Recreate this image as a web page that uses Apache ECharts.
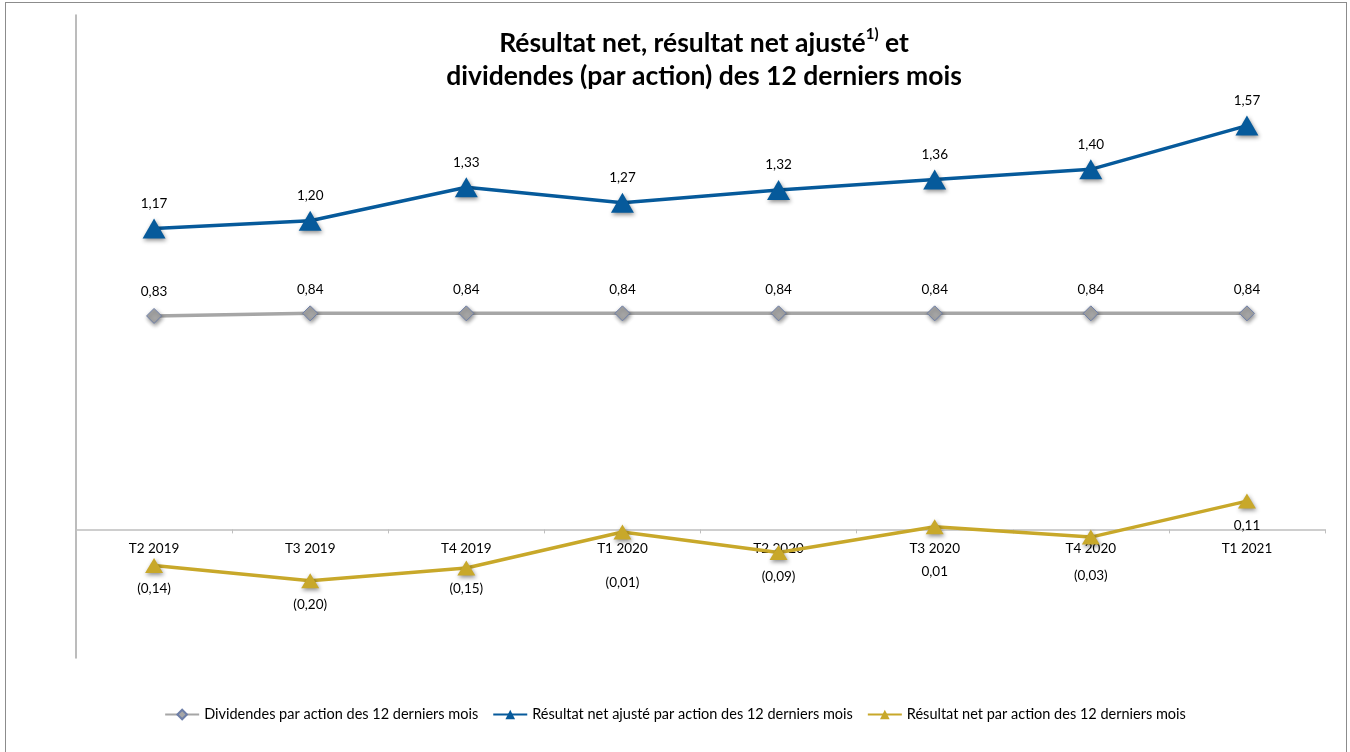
<!DOCTYPE html>
<html>
<head>
<meta charset="utf-8">
<script src="https://cdn.jsdelivr.net/npm/echarts@6/dist/echarts.min.js"></script>
<style>
    html, body { margin: 0; padding: 0; background: #fff; overflow: hidden; }
    #frame { position: absolute; left: 5px; top: 2px; width: 1342px; height: 800px; border: 1px solid #8c8c8c; box-sizing: border-box; }
    #chart { position: absolute; left: 0; top: 0; width: 1350px; height: 752px; }
</style>
</head>
<body>
<div id="frame"></div>
<div id="chart"></div>
<script>
const categories = ['T2 2019', 'T3 2019', 'T4 2019', 'T1 2020', 'T2 2020', 'T3 2020', 'T4 2020', 'T1 2021'];
const dividends = [0.83, 0.84, 0.84, 0.84, 0.84, 0.84, 0.84, 0.84];
const adjustedResult = [1.17, 1.20, 1.33, 1.27, 1.32, 1.36, 1.40, 1.57];
const netResult = [-0.14, -0.20, -0.15, -0.01, -0.09, 0.01, -0.03, 0.11];

// vertical offsets of the net result labels (manually placed in the original)
const netLabelDy = [23, 24, 21, 51, 24, 45, 39, 25];

const FONT = 'Lato';
const Y_MIN = -0.5, Y_MAX = 2.0;
const GRID_TOP = 15, GRID_BOTTOM = 94, CHART_H = 752;

function fmt(v) {
    const s = Math.abs(v).toFixed(2).replace('.', ',');
    return v < 0 ? '(' + s + ')' : s;
}

document.addEventListener('DOMContentLoaded', function() {
    const chart = echarts.init(document.getElementById('chart'));
    const shadow = { shadowBlur: 4, shadowColor: 'rgba(0,0,0,0.45)', shadowOffsetX: 1, shadowOffsetY: 2 };

    // distance from the bottom of the plot up to the zero line
    const plotH = CHART_H - GRID_TOP - GRID_BOTTOM;
    const zeroOffset = plotH * (0 - Y_MIN) / (Y_MAX - Y_MIN);

    const option = {
        animation: false,
        textStyle: { fontFamily: FONT },
        title: {
            left: 699,
            top: 22,
            textAlign: 'center',
            text: '{a|Résultat net, résultat net ajusté}{s|1)}{a| et}\n{a|dividendes (par action) des 12 derniers mois}',
            textStyle: {
                rich: {
                    a: { fontFamily: FONT, fontSize: 26.5, fontWeight: 'bold', color: '#000', lineHeight: 33 },
                    s: { fontFamily: FONT, fontSize: 15, fontWeight: 'bold', color: '#000', verticalAlign: 'top', lineHeight: 33, padding: [0, 0, 12, 0] }
                }
            }
        },
        legend: {
            bottom: 25,
            left: 'center',
            itemWidth: 34,
            itemHeight: 12,
            itemGap: 14,
            textStyle: { fontFamily: FONT, fontSize: 14.5, color: '#000' },
            data: ['Dividendes par action des 12 derniers mois', 'Résultat net ajusté par action des 12 derniers mois', 'Résultat net par action des 12 derniers mois']
        },
        grid: { left: 76, right: 25, top: GRID_TOP, bottom: GRID_BOTTOM },
        xAxis: {
            type: 'category',
            data: categories,
            boundaryGap: true,
            offset: -zeroOffset,
            axisLine: { onZero: false, lineStyle: { color: '#bfbfbf', width: 1.5 } },
            axisTick: { show: true, alignWithLabel: false, length: 4, lineStyle: { color: '#bfbfbf' } },
            axisLabel: { fontFamily: FONT, fontSize: 13.5, color: '#000', margin: 12 }
        },
        yAxis: {
            type: 'value',
            min: Y_MIN,
            max: Y_MAX,
            interval: 0.5,
            axisLine: { show: true, lineStyle: { color: '#a6a6a6', width: 1.5 } },
            axisTick: { show: false },
            axisLabel: { show: false },
            splitLine: { show: false }
        },
        series: [
            {
                name: 'Dividendes par action des 12 derniers mois',
                type: 'line',
                data: dividends,
                symbol: 'diamond',
                symbolSize: 15,
                z: 3,
                lineStyle: { color: '#a6a6a6', width: 3.5 },
                itemStyle: Object.assign({ color: '#a6a6a6', borderColor: '#6e7fa8', borderWidth: 1 }, shadow),
                label: {
                    show: true, position: 'top', distance: 9,
                    fontFamily: FONT, fontSize: 13.5, color: '#000',
                    formatter: p => fmt(p.value)
                }
            },
            {
                name: 'Résultat net ajusté par action des 12 derniers mois',
                type: 'line',
                data: adjustedResult,
                symbol: 'triangle',
                symbolSize: [23, 20],
                z: 4,
                lineStyle: { color: '#065a9b', width: 3.5 },
                itemStyle: Object.assign({ color: '#065a9b' }, shadow),
                label: {
                    show: true, position: 'top', distance: 8,
                    fontFamily: FONT, fontSize: 13.5, color: '#000',
                    formatter: p => fmt(p.value)
                }
            },
            {
                name: 'Résultat net par action des 12 derniers mois',
                type: 'line',
                data: netResult.map((v, i) => ({
                    value: v,
                    label: { offset: [0, netLabelDy[i]] }
                })),
                symbol: 'triangle',
                symbolSize: [18, 15],
                z: 5,
                lineStyle: { color: '#c8a82a', width: 3.5 },
                itemStyle: Object.assign({ color: '#c8a82a' }, shadow),
                label: {
                    show: true, position: 'inside',
                    fontFamily: FONT, fontSize: 13.5, color: '#000',
                    formatter: p => fmt(p.value)
                }
            }
        ]
    };
    chart.setOption(option);
});
</script>
</body>
</html>
